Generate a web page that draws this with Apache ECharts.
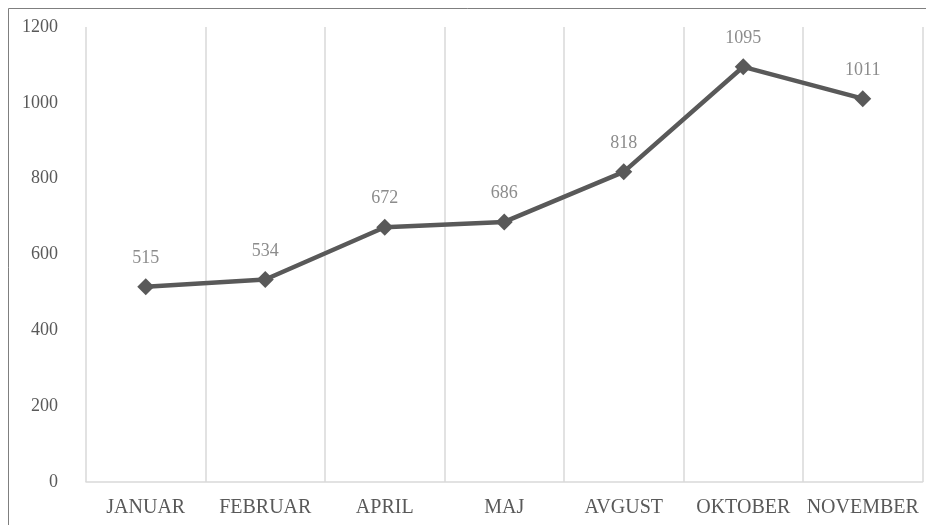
<!DOCTYPE html>
<html><head><meta charset="utf-8">
<script src="https://cdn.jsdelivr.net/npm/echarts@6/dist/echarts.min.js"></script>
<style>html,body{margin:0;padding:0;background:#fff}#c{width:926px;height:525px}</style>
</head><body><div id="c"></div>
<script>
const categories = ['JANUAR','FEBRUAR','APRIL','MAJ','AVGUST','OKTOBER','NOVEMBER'];
const values = [515, 534, 672, 686, 818, 1095, 1011];
const yTicks = [0, 200, 400, 600, 800, 1000, 1200];
const FONT = 'Liberation Serif';
const chart = echarts.init(document.getElementById('c'), null, {renderer:'canvas'});
chart.setOption({
  animation: false,
  backgroundColor: '#fff',
  textStyle: {fontFamily: FONT},
  graphic: [{type:'rect', shape:{x:8.5, y:8.5, width:940, height:540}, style:{fill:'none', stroke:'#7f7f7f', lineWidth:1}, silent:true}],
  grid: {left: 86, right: 3.5, top: 27, bottom: 43, containLabel: false},
  xAxis: {
    type: 'category', data: categories, boundaryGap: true,
    axisLine: {show: true, lineStyle: {color: '#d9d9d9', width: 1.5}},
    axisTick: {show: false},
    splitLine: {show: true, lineStyle: {color: '#d9d9d9', width: 1.5}},
    axisLabel: {color: '#595959', fontFamily: FONT, fontSize: 20, margin: 16, interval: 0}
  },
  yAxis: {
    type: 'value', min: yTicks[0], max: yTicks[yTicks.length-1], interval: 200,
    axisLine: {show: false}, axisTick: {show: false}, splitLine: {show: false},
    axisLabel: {color: '#595959', fontFamily: FONT, fontSize: 18, margin: 28, formatter: v => String(v)}
  },
  series: [{
    type: 'line', data: values,
    symbol: 'diamond', symbolSize: 17,
    lineStyle: {color: '#595959', width: 4.5},
    itemStyle: {color: '#595959'},
    label: {show: true, position: 'top', distance: 11, color: '#8c8c8c', fontFamily: FONT, fontSize: 18}
  }]
});
</script></body></html>
